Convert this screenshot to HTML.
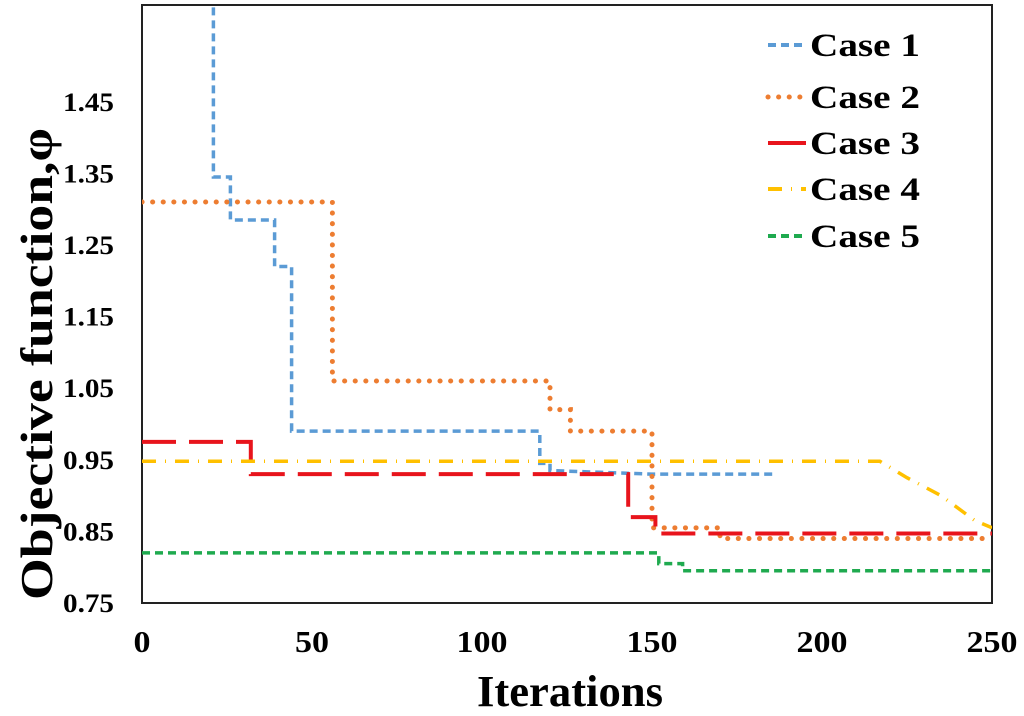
<!DOCTYPE html>
<html><head><meta charset="utf-8"><style>
body{margin:0;background:#fff;}
svg{display:block;font-family:"Liberation Serif",serif;font-weight:bold;}
</style></head><body>
<svg id="chart" width="1024" height="716">
<rect x="142" y="5" width="850" height="598" fill="none" stroke="#222" stroke-width="2"/>
<g id="yt"></g><g id="xt"></g><g id="series"></g><g id="legend"></g>
<text x="477" y="706" font-size="44" textLength="186" lengthAdjust="spacingAndGlyphs">Iterations</text>
<text transform="translate(52,600) rotate(-90)" font-size="46" textLength="472" lengthAdjust="spacingAndGlyphs">Objective function,φ</text>
</svg>
<script>
const xTicks=[0,50,100,150,200,250];
const yTicks=[0.75,0.85,0.95,1.05,1.15,1.25,1.35,1.45];
const names=["Case 1","Case 2","Case 3","Case 4","Case 5"];
const c1x=[21,21,26,26,39,39,44,44,117,117,120,120,150,186];
const c1y=[1.60,1.345,1.345,1.285,1.285,1.22,1.22,0.99,0.99,0.945,0.945,0.935,0.93,0.93];
const c2x=[0,56,56,120,120,126,126,150,150,170,170,250];
const c2y=[1.31,1.31,1.06,1.06,1.02,1.02,0.99,0.99,0.855,0.855,0.84,0.84];
const c3x=[0,32,32,143,143,151,151,250];
const c3y=[0.975,0.975,0.93,0.93,0.87,0.87,0.847,0.847];
const c4x=[0,217,225,235,245,250];
const c4y=[0.948,0.948,0.925,0.9,0.865,0.855];
const c5x=[0,152,152,159,159,250];
const c5y=[0.82,0.82,0.805,0.805,0.795,0.795];
const colors=["#5b9bd5","#ed7d31","#e8141c","#ffc000","#1faa4f"];
const dashes=["8,5","0.1,10.5","34,13","14,9,1,9","8,5"];
const caps=["butt","round","butt","butt","butt"];
const NS="http://www.w3.org/2000/svg";
const X=v=>142+v*3.4, Y=v=>603-(v-0.75)*716;
function el(t,a,p){const e=document.createElementNS(NS,t);for(const k in a)e.setAttribute(k,a[k]);p.appendChild(e);return e;}
const yt=document.getElementById('yt'),xt=document.getElementById('xt'),sg=document.getElementById('series'),lg=document.getElementById('legend');
yTicks.forEach(v=>{const t=el('text',{x:63,y:Y(v)+9,'font-size':26,textLength:51,lengthAdjust:'spacingAndGlyphs'},yt);t.textContent=v.toFixed(2);

});
xTicks.forEach(v=>{const s=String(v);const w=s.length*17;const t=el('text',{x:X(v)-w/2,y:652,'font-size':31,textLength:w,lengthAdjust:'spacingAndGlyphs'},xt);t.textContent=s;

});
const xs=[c1x,c2x,c3x,c4x,c5x],ys=[c1y,c2y,c3y,c4y,c5y];
const clip=el('clipPath',{id:'cp'},document.getElementById('chart'));el('rect',{x:142,y:5,width:850,height:598},clip);
xs.forEach((xa,i)=>{const pts=xa.map((x,j)=>X(x)+','+Y(ys[i][j])).join(' ');
const p=el('polyline',{points:pts,fill:'none',stroke:colors[i],'stroke-width':i==2?4:i==1?5:3.5,'stroke-dasharray':dashes[i],'stroke-linecap':caps[i],'clip-path':'url(#cp)'},sg);

});
const ly=[45,97,143,189,236];
names.forEach((n,i)=>{const g=el('g',{},lg);


el('line',{x1:768,y1:ly[i],x2:806,y2:ly[i],stroke:colors[i],'stroke-width':i==1?5:4,'stroke-dasharray':i==2?'40':dashes[i],'stroke-linecap':caps[i]},g);
const t=el('text',{x:810,y:ly[i]+11,'font-size':33,textLength:110,lengthAdjust:'spacingAndGlyphs'},g);t.textContent=n;});
</script>
</body></html>
